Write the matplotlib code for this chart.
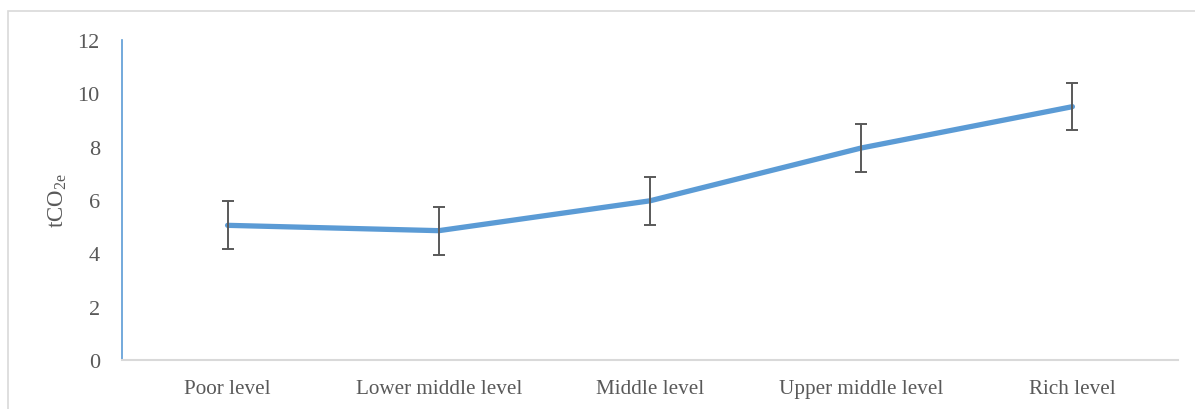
import matplotlib.pyplot as plt
from matplotlib.patches import Rectangle
import numpy as np

categories = ['Poor level', 'Lower middle level', 'Middle level', 'Upper middle level', 'Rich level']
emissions = [5.05, 4.85, 5.97, 7.95, 9.5]
errors = [0.9, 0.9, 0.9, 0.9, 0.89]
yticks = [0, 2, 4, 6, 8, 10, 12]

plt.rcParams['font.family'] = ['Liberation Serif', 'DejaVu Serif']
plt.rcParams['mathtext.fontset'] = 'custom'
plt.rcParams['mathtext.rm'] = 'Liberation Serif'
plt.rcParams['mathtext.it'] = 'Liberation Serif:italic'

textColor = '#595959'
lineColor = '#5B9BD5'

fig = plt.figure(figsize=(11.95, 4.1), dpi=100)
ax = fig.add_axes([122/1195, 49/410, 1056/1195, 320/410])

ind = np.arange(len(categories))
ax.plot(ind, emissions, color=lineColor, linewidth=3.8, solid_capstyle='round',
        solid_joinstyle='round', zorder=3)
ax.errorbar(ind, emissions, yerr=errors, fmt='none', ecolor='#595959',
            elinewidth=1.4, capsize=4, capthick=1.4, zorder=4)

ax.set_xlim(-0.5, len(categories) - 0.5)
ax.set_ylim(0, 12)
ax.set_yticks(yticks)
ax.set_yticklabels([str(v) for v in yticks], fontsize=16, color=textColor)
ax.set_xticks(ind)
ax.set_xticklabels(categories, fontsize=15.2, color=textColor)
ax.tick_params(axis='both', length=0)
ax.tick_params(axis='y', pad=16)
ax.tick_params(axis='x', pad=14)

for s in ['top', 'right']:
    ax.spines[s].set_visible(False)
ax.spines['left'].set_color(lineColor)
ax.spines['left'].set_linewidth(1.2)
ax.spines['bottom'].set_color('#D9D9D9')
ax.spines['bottom'].set_linewidth(1.5)

ax.set_ylabel('tCO$_{\\mathrm{2e}}$', fontsize=16.5, color=textColor, labelpad=6)

fig.patches.append(Rectangle((8/1195, -0.1), 1.2, (410-12)/410 + 0.1,
                             transform=fig.transFigure, fill=False,
                             edgecolor='#D9D9D9', linewidth=1.2))

plt.savefig('out.png', dpi=100)
